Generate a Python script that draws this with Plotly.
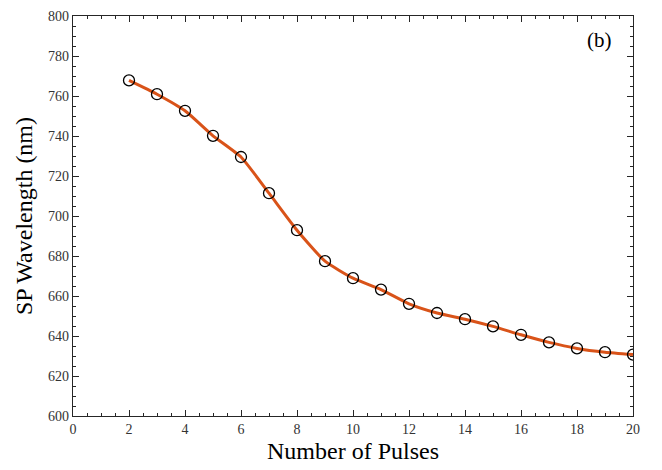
import plotly.graph_objects as go

# Surface plasmon resonance wavelength versus laser pulse count
pulses = [2, 3, 4, 5, 6, 7, 8, 9, 10, 11, 12, 13, 14, 15, 16, 17, 18, 19, 20]
wavelength_nm = [767.8, 760.9, 752.6, 740.1, 729.5, 711.4, 692.9, 677.4, 668.9,
                 663.2, 656.1, 651.5, 648.4, 644.8, 640.6, 636.8, 633.8, 631.9, 630.7]

x_ticks = list(range(0, 21, 2))
y_ticks = list(range(600, 801, 20))

font_family = "Liberation Serif, Times New Roman, serif"
axis_color = "#262626"

fig = go.Figure()
fig.add_trace(go.Scatter(
    x=pulses, y=wavelength_nm,
    mode="lines+markers",
    line=dict(color="#D95319", width=3, shape="spline", smoothing=0.5),
    marker=dict(symbol="circle-open", size=11, color="black", line=dict(width=1.3)),
    showlegend=False,
))

axis_common = dict(
    showline=True, linecolor=axis_color, linewidth=1.2,
    mirror="ticks", ticks="inside", ticklen=6, tickwidth=1.2, tickcolor=axis_color,
    showgrid=False, zeroline=False,
    tickfont=dict(family=font_family, size=14, color="#333333"),
)

fig.update_xaxes(
    range=[0, 20], tickvals=x_ticks,
    minor=dict(dtick=0.5, ticks="inside", ticklen=3, tickwidth=1, tickcolor=axis_color),
    title=dict(text="Number of Pulses", font=dict(family=font_family, size=24, color="black"), standoff=6),
    **axis_common,
)
fig.update_yaxes(
    range=[600, 800], tickvals=y_ticks,
    minor=dict(dtick=5, ticks="inside", ticklen=3, tickwidth=1, tickcolor=axis_color),
    title=dict(text="SP Wavelength (nm)", font=dict(family=font_family, size=24, color="black"), standoff=8),
    **axis_common,
)

fig.add_annotation(
    x=0.94, y=0.94, xref="paper", yref="paper", text="(b)", showarrow=False,
    xanchor="center", yanchor="middle",
    font=dict(family=font_family, size=21, color="black"),
)

fig.update_layout(
    width=662, height=470,
    margin=dict(l=73, r=29, t=9, b=54),
    paper_bgcolor="white", plot_bgcolor="white",
)

fig.write_html("out.html")
